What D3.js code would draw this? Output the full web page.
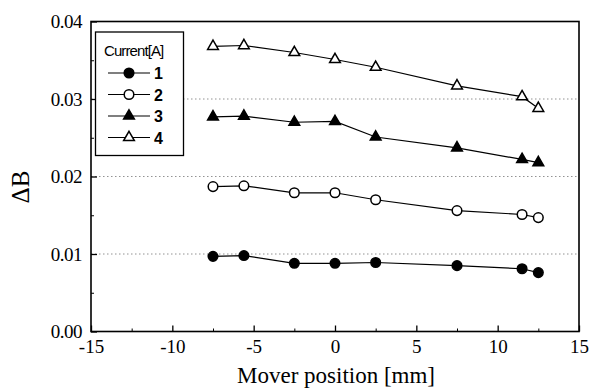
<!DOCTYPE html>
<html><head><meta charset="utf-8">
<script src="https://cdn.jsdelivr.net/npm/d3@7"></script>
<style>body{margin:0;background:#fff}svg{display:block}</style>
</head><body>
<script>
const positions = [-7.5, -5.6, -2.5, 0, 2.5, 7.5, 11.5, 12.5];
const currents = ["1", "2", "3", "4"];
const s1 = [0.0097, 0.0098, 0.0088, 0.0088, 0.0089, 0.0085, 0.0081, 0.0076];
const s2 = [0.0187, 0.0188, 0.0179, 0.0179, 0.0170, 0.0156, 0.0151, 0.0147];
const s3 = [0.0277, 0.0278, 0.0270, 0.0271, 0.0251, 0.0237, 0.0222, 0.0218];
const s4 = [0.0368, 0.0369, 0.0360, 0.0351, 0.0341, 0.0317, 0.0303, 0.0288];
const xTicks = [-15, -10, -5, 0, 5, 10, 15];
const xTickLabels = ["-15", "-10", "-5", "0", "5", "10", "15"];
const yTicks = [0.00, 0.01, 0.02, 0.03, 0.04];
const yTickLabels = ["0.00", "0.01", "0.02", "0.03", "0.04"];
const gridVals = [0.01, 0.02, 0.03];
const seriesVals = [s1, s2, s3, s4];
const markers = [["circle", true], ["circle", false], ["triangle", true], ["triangle", false]];

const SERIF = "'Liberation Serif', 'Times New Roman', serif";
const SANS = "'Liberation Sans', Arial, sans-serif";
const W = 591, H = 390;
const L = 91, R = 579, T = 21.5, B = 331.5;
const svg = d3.select("body").append("svg").attr("width", W).attr("height", H);
const x = d3.scaleLinear().domain([-15, 15]).range([L, R]);
const y = d3.scaleLinear().domain([0, 0.04]).range([B, T]);

// grid
svg.append("g").selectAll("line").data(gridVals).join("line")
  .attr("x1", L).attr("x2", R).attr("y1", d => y(d)).attr("y2", d => y(d))
  .attr("stroke", "#777").attr("stroke-width", 0.8).attr("stroke-dasharray", "1.5,2.5");

// frame
svg.append("rect").attr("x", L).attr("y", T).attr("width", R - L).attr("height", B - T)
  .attr("fill", "none").attr("stroke", "#000").attr("stroke-width", 1.6);

// axes
const xAxis = d3.axisBottom(x).tickValues(xTicks).tickFormat((d, i) => xTickLabels[i]).tickSizeInner(-6).tickSizeOuter(0).tickPadding(10);
const gx = svg.append("g").attr("transform", `translate(0,${B})`).call(xAxis);
gx.select(".domain").remove();
gx.selectAll("line").attr("stroke-width", 1.3);
gx.selectAll("text").style("font-family", SERIF).style("font-size", "19px").attr("fill", "#000").attr("dy", "0.6em");
const gxm = svg.append("g").attr("transform", `translate(0,${B})`).call(
  d3.axisBottom(x).tickValues(d3.range(-12.5, 15, 5)).tickFormat("").tickSizeInner(-3).tickSizeOuter(0));
gxm.select(".domain").remove();

const yAxis = d3.axisLeft(y).tickValues(yTicks).tickFormat((d, i) => yTickLabels[i]).tickSizeInner(-6).tickSizeOuter(0).tickPadding(9);
const gy = svg.append("g").attr("transform", `translate(${L},0)`).call(yAxis);
gy.select(".domain").remove();
gy.selectAll("line").attr("stroke-width", 1.3);
gy.selectAll("text").style("font-family", SERIF).style("font-size", "19px").attr("fill", "#000").style("letter-spacing", "-0.5px");
const gym = svg.append("g").attr("transform", `translate(${L},0)`).call(
  d3.axisLeft(y).tickValues(d3.range(0.005, 0.04, 0.01)).tickFormat("").tickSizeInner(-3).tickSizeOuter(0));
gym.select(".domain").remove();

// titles
svg.append("text").attr("x", 336).attr("y", 383).attr("text-anchor", "middle")
  .style("font-family", SERIF).style("font-size", "23px").text("Mover position [mm]");
svg.append("text").attr("transform", "translate(29,187) rotate(-90)").attr("text-anchor", "middle")
  .style("font-family", SERIF).style("font-size", "25px").text("ΔB");

const tri = d3.symbol().type(d3.symbolTriangle).size(50);
function drawMarker(g, kind, filled) {
  if (kind === "circle") {
    g.append("circle").attr("r", 4.8).attr("fill", filled ? "#000" : "#fff").attr("stroke", "#000").attr("stroke-width", 1.5);
  } else {
    g.append("path").attr("d", tri()).attr("fill", filled ? "#000" : "#fff").attr("stroke", "#000").attr("stroke-width", 1.5);
  }
}

const line = d3.line().x((d, i) => x(positions[i])).y(d => y(d));
seriesVals.forEach((vals, k) => {
  svg.append("path").attr("d", line(vals)).attr("fill", "none").attr("stroke", "#000").attr("stroke-width", 1.2);
  vals.forEach((v, i) => {
    const g = svg.append("g").attr("transform", `translate(${x(positions[i])},${y(v)})`);
    drawMarker(g, markers[k][0], markers[k][1]);
  });
});

// legend
const lg = svg.append("g");
lg.append("rect").attr("x", 95.5).attr("y", 32).attr("width", 88).attr("height", 123.5)
  .attr("fill", "#fff").attr("stroke", "#000").attr("stroke-width", 1.3);
lg.append("text").attr("x", 104).attr("y", 56).style("font-family", SANS)
  .style("font-size", "15px").style("letter-spacing", "-0.9px").text("Current[A]");
currents.forEach((c, k) => {
  const yy = 73 + k * 21.5;
  lg.append("line").attr("x1", 108).attr("x2", 150).attr("y1", yy).attr("y2", yy).attr("stroke", "#000").attr("stroke-width", 1.2);
  const g = lg.append("g").attr("transform", `translate(129,${yy})`);
  drawMarker(g, markers[k][0], markers[k][1]);
  lg.append("text").attr("x", 154).attr("y", yy + 6).style("font-family", SANS)
    .style("font-weight", "bold").style("font-size", "16px").text(c);
});
</script>
</body></html>
